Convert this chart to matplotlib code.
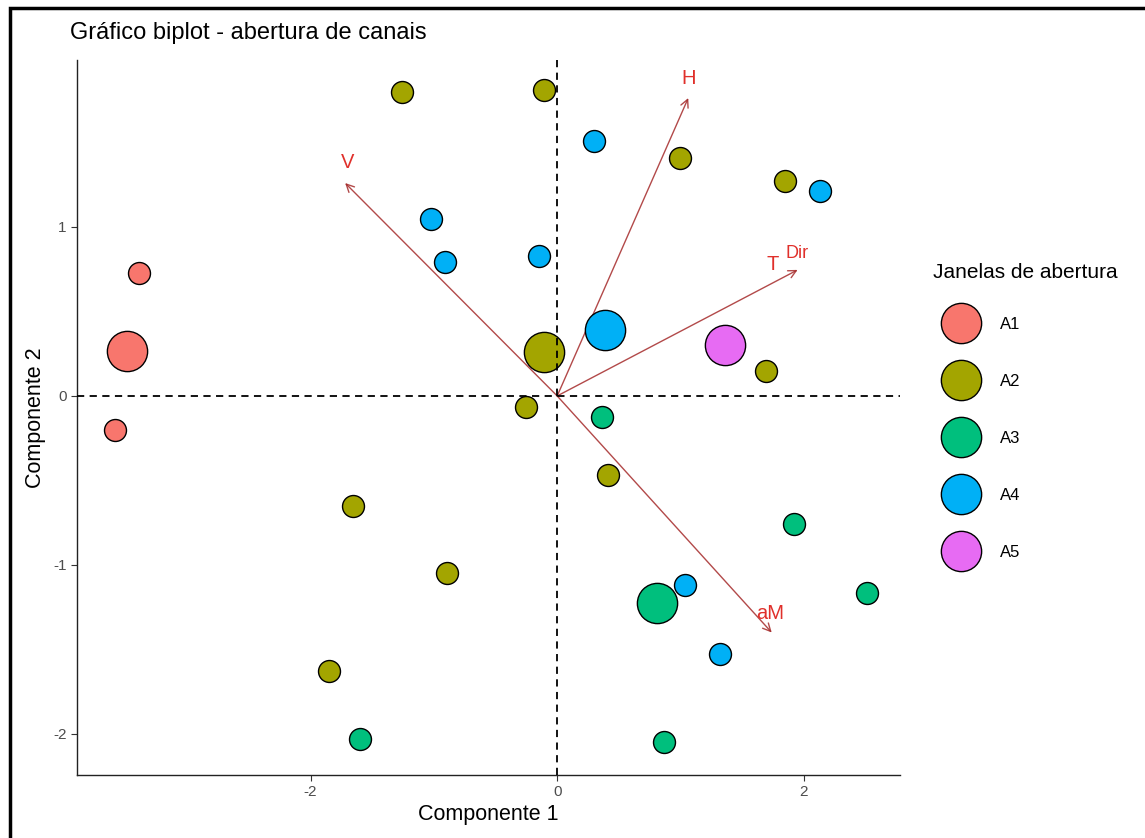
import matplotlib
matplotlib.use("Agg")
import matplotlib.pyplot as plt
from matplotlib.lines import Line2D
from matplotlib.patches import Rectangle
import numpy as np

plt.rcParams['font.family'] = ['Liberation Sans', 'DejaVu Sans']
plt.rcParams['axes.unicode_minus'] = False

# ---- data ----
groups = ["A1", "A2", "A3", "A4", "A5"]
colors = ["#F8766D", "#A3A500", "#00BF7D", "#00B0F6", "#E76BF3"]

a1_x = [-3.39, -3.59]
a1_y = [0.73, -0.20]
a2_x = [-1.26, -0.105, 1.00, 1.85, 1.69, -0.25, 0.41, -1.66, -0.89, -1.85]
a2_y = [1.80, 1.81, 1.41, 1.27, 0.15, -0.065, -0.47, -0.65, -1.05, -1.63]
a3_x = [0.365, 2.51, 1.92, -1.60, 0.87]
a3_y = [-0.124, -1.165, -0.76, -2.03, -2.05]
a4_x = [0.30, 2.13, -1.02, -0.91, -0.15, 1.04, 1.32]
a4_y = [1.51, 1.21, 1.05, 0.79, 0.83, -1.12, -1.53]
a5_x = [1.36]
a5_y = [0.30]

var_names = ["H", "V", "TDir", "aM"]
var_x = [1.063, -1.72, 1.95, 1.74]
var_y = [1.763, 1.26, 0.746, -1.40]
label_text = ["H", "V", "T", "aM"]
label_x = [1.063, -1.70, 1.75, 1.73]
label_y = [1.88, 1.38, 0.78, -1.29]
sup_text = "Dir"
sup_x = 1.945
sup_y = 0.84

group_x = [a1_x, a2_x, a3_x, a4_x, a5_x]
group_y = [a1_y, a2_y, a3_y, a4_y, a5_y]

x_ticks = [-2, 0, 2]
y_ticks = [-2, -1, 0, 1]

# ---- figure ----
fig = plt.figure(figsize=(11.45, 8.38), dpi=100)
ax = fig.add_axes([0.0672, 0.0752, 0.7188, 0.8532])

# arrows (below points)
for vx, vy in zip(var_x, var_y):
    ax.annotate("", xy=(vx, vy), xytext=(0, 0),
                arrowprops=dict(arrowstyle="->", color="#A52A2A", lw=1.0,
                                alpha=0.85, mutation_scale=14,
                                shrinkA=0, shrinkB=0), zorder=2)
for t, lx, ly in zip(label_text, label_x, label_y):
    ax.text(lx, ly, t, color="#E0302B", fontsize=14.5, ha="center",
            va="center", zorder=6)
ax.text(sup_x, sup_y, sup_text, color="#E0302B", fontsize=13, ha="center",
        va="center", zorder=6)

# points
for x, y, c in zip(group_x, group_y, colors):
    ax.scatter(x, y, s=250, c=c, edgecolors="black", linewidths=1.0, zorder=3)
    ax.scatter([np.mean(x)], [np.mean(y)], s=840, c=c, edgecolors="black",
               linewidths=1.0, zorder=3)

# reference lines on top
ax.axhline(0, color="black", ls=(0, (4, 3)), lw=1.3, zorder=4)
ax.axvline(0, color="black", ls=(0, (4, 3)), lw=1.3, zorder=4)

ax.set_xlim(-3.895, 2.78)
ax.set_ylim(-2.243, 1.988)
ax.set_xticks(x_ticks)
ax.set_yticks(y_ticks)
ax.tick_params(axis="both", colors="#333333", labelcolor="#4D4D4D",
               labelsize=11, length=4, width=0.8)
for s in ["top", "right"]:
    ax.spines[s].set_visible(False)
for s in ["left", "bottom"]:
    ax.spines[s].set_linewidth(1.0)
    ax.spines[s].set_color("#222222")

ax.set_xlabel("Componente 1", fontsize=15.5, labelpad=3)
ax.set_ylabel("Componente 2", fontsize=15.5, labelpad=5)
fig.text(70 / 1145, 1 - 33 / 838, "Gráfico biplot - abertura de canais",
         fontsize=17, ha="left", va="center")

handles = [Line2D([0], [0], marker="o", linestyle="", markersize=29,
                  markerfacecolor=c, markeredgecolor="black",
                  markeredgewidth=1.0) for c in colors]
leg = fig.legend(handles, groups, title="Janelas de abertura",
                 loc="upper left", bbox_to_anchor=(930 / 1145, 1 - 260 / 838),
                 frameon=False, fontsize=12, title_fontsize=15,
                 labelspacing=2.52, handlelength=3.3, handletextpad=0.7,
                 borderaxespad=0, borderpad=0.2)
leg._legend_box.align = "left"
leg._legend_box.sep = 25.0

# screenshot frame
fig.patches.append(Rectangle((10 / 1145, -0.1), 1.2, 0.1 + 1 - 8 / 838,
                             transform=fig.transFigure, fill=False,
                             edgecolor="black", lw=2.5))

fig.savefig("out.png", dpi=100, facecolor="white")
